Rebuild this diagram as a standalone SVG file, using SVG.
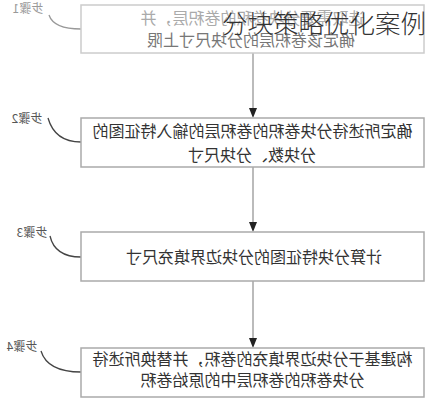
<svg xmlns="http://www.w3.org/2000/svg" width="429" height="400" viewBox="0 0 429 400">
<style>
.box{fill:#fff;stroke:#aaa;stroke-width:1.5}
.box1{fill:#fff;stroke:#ccc;stroke-width:1.5}
.t{font-family:"Noto Sans CJK SC","Noto Sans",sans-serif;font-size:16px;fill:#333;text-anchor:middle}
.lbl{font-family:"Noto Sans CJK SC","Noto Sans",sans-serif;font-size:12px;fill:#555;text-anchor:middle}
.cur{fill:none;stroke:#444;stroke-width:1.3}
.cur1{fill:none;stroke:#999;stroke-width:1.3}
.con{stroke:#bbb;stroke-width:2;fill:none}
.ah{fill:#222}
.title{font-family:"Noto Sans CJK SC","Noto Sans",sans-serif;font-size:25.5px;font-weight:300;fill:#333}
</style>
<rect width="429" height="400" fill="#fff"/>
<g id="connectors">
<line class="con" x1="253" y1="53" x2="253" y2="108"/>
<path class="ah" d="M249,108 L257,108 L253,118 Z"/>
<line class="con" x1="253" y1="167" x2="253" y2="222"/>
<path class="ah" d="M249,222 L257,222 L253,232 Z"/>
<line class="con" x1="253" y1="281" x2="253" y2="338"/>
<path class="ah" d="M249,338 L257,338 L253,348 Z"/>
<path class="cur1" d="M49,15 C52,24 62,29 81,29"/>
<path class="cur" d="M48,118 C52,132 62,142 81,142"/>
<path class="cur" d="M50,236 C53,249 62,257 81,257"/>
<path class="cur" d="M41,351 C45,364 58,372 81,372"/>
</g>
<g id="step1">
<rect class="box1" x="81" y="5" width="343" height="48"/>
<text class="t" style="fill:#aaa" transform="translate(252.5,24) scale(-1,1)">选取需要分块卷积的卷积层，并</text>
<text class="t" style="fill:#777" transform="translate(251,46) scale(-1,1)">确定该卷积层的分块尺寸上限</text>
<text class="lbl" style="fill:#999" transform="translate(28,13) scale(-1,1)">步骤1</text>
</g>
<g id="step2">
<rect class="box" x="81" y="118" width="343" height="49"/>
<text class="t" transform="translate(252.5,137) scale(-1,1)">确定所述待分块卷积的卷积层的输入特征图的</text>
<text class="t" transform="translate(252,161) scale(-1,1)">分块数、分块尺寸</text>
<text class="lbl" transform="translate(27,123) scale(-1,1)">步骤2</text>
</g>
<g id="step3">
<rect class="box" x="81" y="232" width="343" height="49"/>
<text class="t" transform="translate(254,263) scale(-1,1)">计算分块特征图的分块边界填充尺寸</text>
<text class="lbl" transform="translate(32,237) scale(-1,1)">步骤3</text>
</g>
<g id="step4">
<rect class="box" x="81" y="348" width="343" height="49"/>
<text class="t" transform="translate(252.5,365) scale(-1,1)">构建基于分块边界填充的卷积，并替换所述待</text>
<text class="t" transform="translate(252.5,386) scale(-1,1)">分块卷积的卷积层中的原始卷积</text>
<text class="lbl" transform="translate(22,351) scale(-1,1)">步骤4</text>
</g>
<g id="title">
<text class="title" x="222" y="33">分块策略优化案例</text>
</g>
</svg>
